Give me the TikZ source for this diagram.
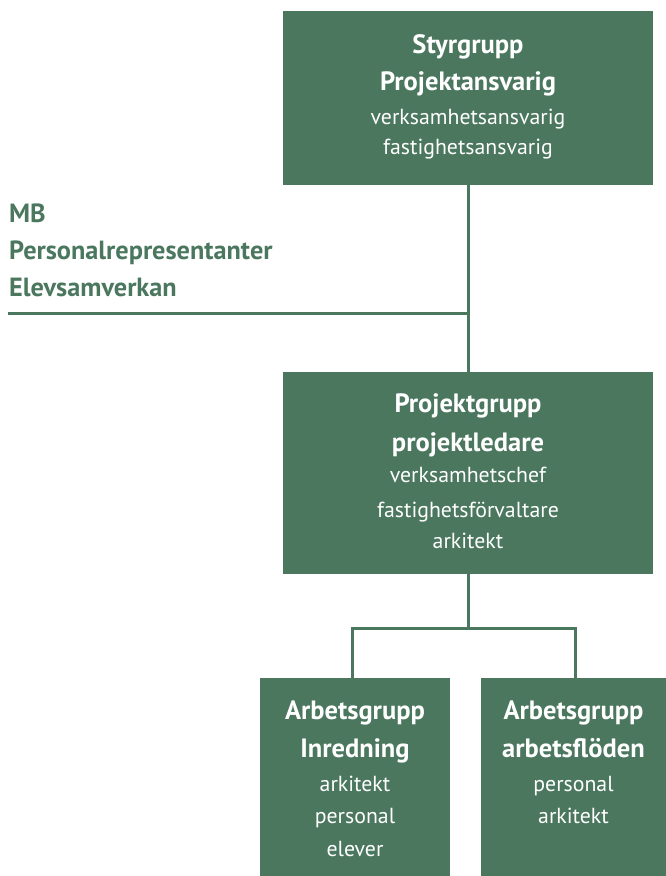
\documentclass[tikz,border=0pt]{standalone}
\usepackage{fontspec}
\setmainfont{PT Sans}
\definecolor{grn}{HTML}{4A775E}
\begin{document}
\begin{tikzpicture}[x=1pt,y=-1pt,
  box/.style={fill=grn,draw=none,inner sep=0pt,outer sep=0pt,anchor=north west},
  bt/.style={text=white,anchor=base,inner sep=0pt,font=\fontsize{26.5}{30}\selectfont\bfseries},
  rt/.style={text=white,anchor=base,inner sep=0pt,font=\fontsize{21.8}{25}\selectfont},
  lt/.style={text=grn,anchor=base west,inner sep=0pt,font=\fontsize{26.3}{30}\selectfont\bfseries},
  conn/.style={draw=grn,line width=3pt}]
\useasboundingbox (0,0) rectangle (666,876);
% boxes
\node[box,minimum width=370pt,minimum height=174pt] (top) at (283,11) {};
\node[box,minimum width=370pt,minimum height=202pt] (mid) at (283,372) {};
\node[box,minimum width=190pt,minimum height=210pt] (bl) at (260,678) {};
\node[box,minimum width=185pt,minimum height=210pt] (br) at (481,678) {};
% connectors
\coordinate (lend) at (8,313);
\coordinate (jn) at (top.south |- lend);
\coordinate (split) at (mid.south |- 0,628);
\coordinate (blin) at ([xshift=-3pt]bl.north);
\coordinate (brin) at ([xshift=1.5pt]br.north);
\draw[conn] (top.south) -- (mid.north);
\draw[conn] (lend) -- (jn);
\draw[conn] (mid.south) -- (split);
\draw[conn] (blin) |- (split) -| (brin);
% top box text
\node[bt] (t1) at (468,53) {Styrgrupp};
\node[bt] (t2) at (468,90) {Projektansvarig};
\node[rt] (t3) at (468,124) {verksamhetsansvarig};
\node[rt] (t4) at (468,154) {fastighetsansvarig};
% left texts
\node[lt] (l1) at (9,222) {MB};
\node[lt] (l2) at (9,259) {Personalrepresentanter};
\node[lt] (l3) at (9,296) {Elevsamverkan};
% middle box text
\node[bt] (m1) at (468,412) {Projektgrupp};
\node[bt] (m2) at (468,451) {projektledare};
\node[rt] (m3) at (468,482) {verksamhetschef};
\node[rt] (m4) at (468,517) {fastighetsförvaltare};
\node[rt] (m5) at (468,548) {arkitekt};
% bottom left
\node[bt] (a1) at (355,719) {Arbetsgrupp};
\node[bt] (a2) at (355,757) {Inredning};
\node[rt] (a3) at (355,791) {arkitekt};
\node[rt] (a4) at (355,823) {personal};
\node[rt] (a5) at (355,856) {elever};
% bottom right
\node[bt] (b1) at (573.5,719) {Arbetsgrupp};
\node[bt] (b2) at (573.5,757) {arbetsflöden};
\node[rt] (b3) at (573.5,791) {personal};
\node[rt] (b4) at (573.5,823) {arkitekt};
\end{tikzpicture}
\end{document}
